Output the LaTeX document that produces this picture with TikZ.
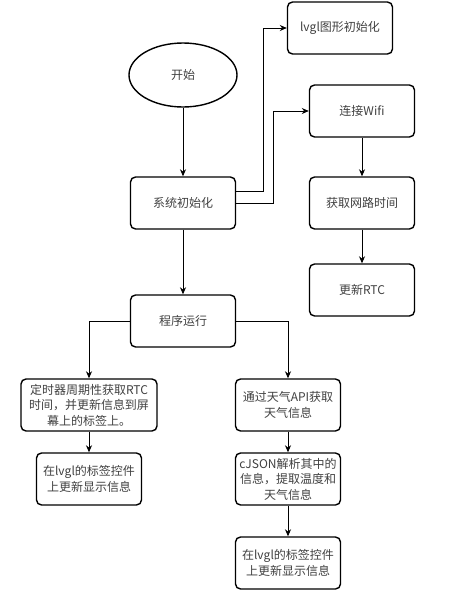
\documentclass[tikz,border=0pt]{standalone}
\usepackage{fontspec}
\newfontfamily\cjk{Noto Sans CJK SC}
\usepackage{tikz}
\usetikzlibrary{arrows.meta,shapes.geometric}

\tikzset{
  stepbox/.style={draw, line width=1.4pt, rounded corners=5pt, align=center,
    minimum width=105pt, minimum height=52pt, inner sep=0pt, text=black!75},
  arr/.style={-{Stealth[length=7pt,width=6pt]}, line width=0.8pt},
}

\begin{document}
\begin{tikzpicture}[x=1pt, y=-1pt, font=\cjk\fontsize{12}{15.5}\selectfont]
  \useasboundingbox (0,0) rectangle (459,595);
  % start and init
  \node[draw, ellipse, line width=1.4pt, minimum width=108pt, minimum height=64pt,
    inner sep=0pt, text=black!75] (start) at (183,75) {开始};
  \node[stepbox] (sysinit) at (183,203) {系统初始化};
  \node[stepbox] (lvgl) at (340,28) {lvgl图形初始化};
  \node[stepbox] (wifi) at (362,111) {连接Wifi};
  \node[stepbox] (nettime) at (362,203) {获取网路时间};
  \node[stepbox] (rtc) at (362,290) {更新RTC};
  \node[stepbox] (run) at (183,321) {程序运行};
  % left branch
  \node[stepbox, minimum width=136pt] (timer) at (89,405)
    {定时器周期性获取RTC\\时间，并更新信息到屏\\幕上的标签上。};
  \node[stepbox] (showA) at (89,479) {在lvgl的标签控件\\上更新显示信息};
  % right branch
  \node[stepbox] (api) at (288,405) {通过天气API获取\\天气信息};
  \node[stepbox] (json) at (288,479) {cJSON解析其中的\\信息，提取温度和\\天气信息};
  \node[stepbox] (showB) at (288,563) {在lvgl的标签控件\\上更新显示信息};

  \draw[arr] (start) -- (sysinit);
  \draw[arr] ([yshift=12pt]sysinit.east) -- ++(27,0) |- (lvgl.west);
  \draw[arr] (sysinit.east) -- ++(37,0) |- (wifi.west);
  \draw[arr] (wifi) -- (nettime);
  \draw[arr] (nettime) -- (rtc);
  \draw[arr] (sysinit) -- (run);
  \draw[arr] (run.west) -| (timer.north);
  \draw[arr] (run.east) -| (api.north);
  \draw[arr] (timer) -- (showA);
  \draw[arr] (api) -- (json);
  \draw[arr] (json) -- (showB);
\end{tikzpicture}
\end{document}
